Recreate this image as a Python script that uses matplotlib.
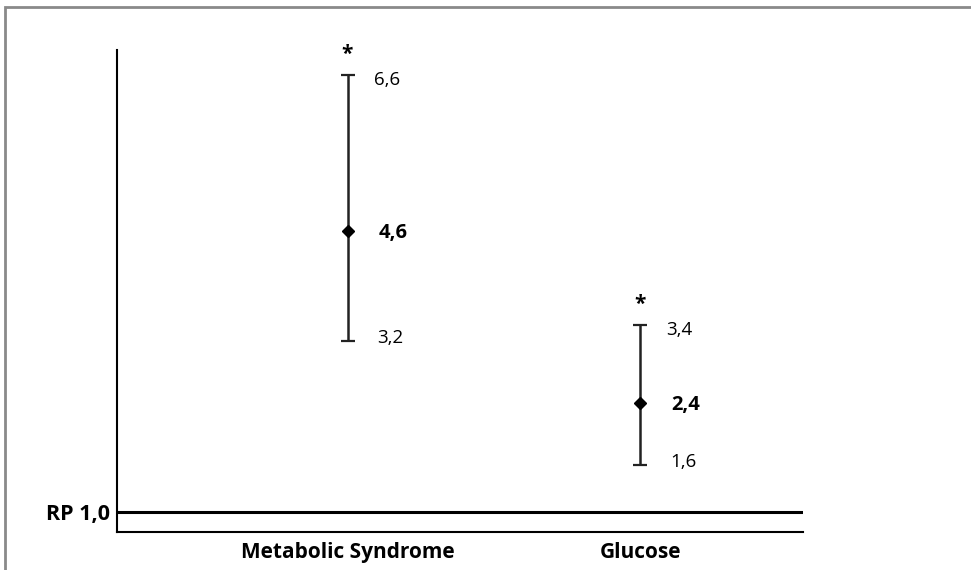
import matplotlib
matplotlib.use("Agg")
import matplotlib.pyplot as plt
from matplotlib.patches import Rectangle
import numpy as np

plt.rcParams['font.family'] = ['Open Sans', 'DejaVu Sans']

# data
categories = ["Metabolic Syndrome", "Glucose"]
rp = [4.6, 2.4]
ci_low = [3.2, 1.6]
ci_high = [6.6, 3.4]
reference = 1.0


def fmt(v):
    return f"{v:.1f}".replace(".", ",")


fig = plt.figure(figsize=(9.71, 5.70), dpi=100)
# grey frame (right/bottom edges fall outside the picture)
fig.patches.append(Rectangle((5 / 971, -0.1), 1.2, 1.1 - 7 / 570, transform=fig.transFigure,
                             fill=False, edgecolor="#8a8a8a", linewidth=2.0))

ax = fig.add_axes([117 / 971, 1 - 532 / 570, (803 - 117) / 971, (532 - 50) / 570])

x = np.arange(len(categories))
rp_a = np.array(rp)
yerr = np.vstack([rp_a - np.array(ci_low), np.array(ci_high) - rp_a])
ax.errorbar(x, rp_a, yerr=yerr, fmt="D", color="black", ecolor="#222222",
            elinewidth=1.8, capsize=5, capthick=1.6, markersize=6.5)

ax.axhline(reference, color="black", linewidth=2.2)

for i in range(len(categories)):
    ax.annotate(fmt(ci_high[i]), (x[i], ci_high[i]), xytext=(26, -5), textcoords="offset pixels",
                ha="left", va="center", fontsize=13.5)
    ax.annotate(fmt(ci_low[i]), (x[i], ci_low[i]), xytext=(30, 3), textcoords="offset pixels",
                ha="left", va="center", fontsize=13.5)
    ax.annotate(fmt(rp[i]), (x[i], rp[i]), xytext=(31, -2), textcoords="offset pixels",
                ha="left", va="center", fontsize=14.5, fontweight="bold")
    ax.annotate("*", (x[i], ci_high[i]), xytext=(0, 21), textcoords="offset pixels",
                ha="center", va="center", fontsize=15, fontweight="bold")

ax.set_xlim(-0.788, 1.557)
ax.set_ylim(0.746, 6.926)

ax.set_xticks(x)
ax.set_xticklabels(categories, fontsize=15, fontweight="bold")
ax.set_yticks([reference])
ax.set_yticklabels(["RP " + fmt(reference)], fontsize=15.5, fontweight="bold")
ax.tick_params(axis="both", length=0)
ax.tick_params(axis="x", pad=7)
ax.tick_params(axis="y", pad=5)

ax.spines["top"].set_visible(False)
ax.spines["right"].set_visible(False)
ax.spines["left"].set_linewidth(1.5)
ax.spines["bottom"].set_linewidth(1.5)

fig.savefig("out.png", dpi=100)
